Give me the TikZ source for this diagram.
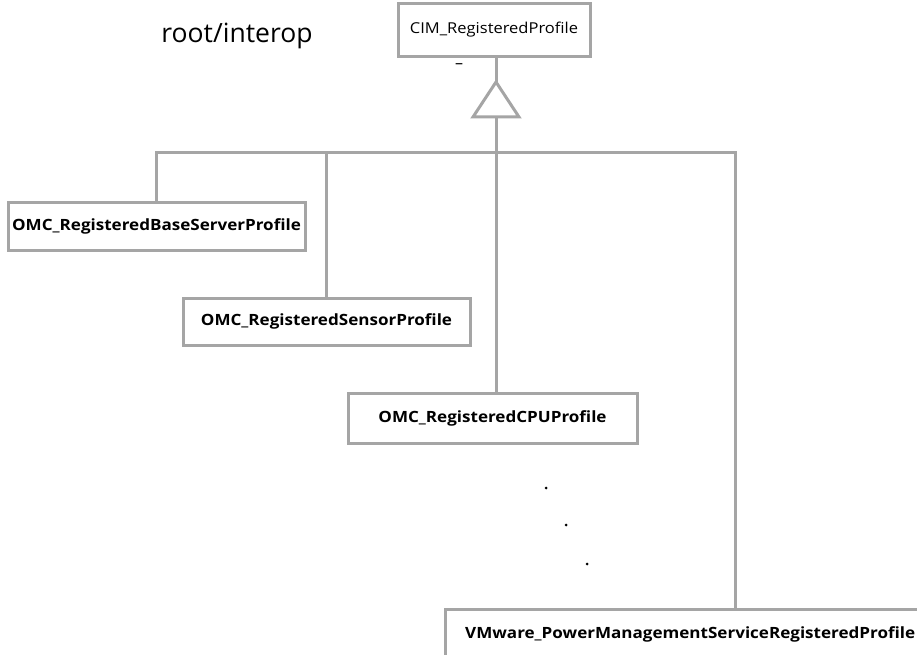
\documentclass[tikz,border=0pt]{standalone}
\usepackage{fontspec}
\setmainfont{Open Sans}
\newfontfamily\boxfont{Open Sans}[FakeStretch=1.1]
\definecolor{lg}{HTML}{A5A5A5}
\begin{document}
\begin{tikzpicture}[x=1pt,y=-1pt,
  box/.style={draw=lg,line width=3pt,rectangle,inner sep=0pt,fill=white},
  lbl/.style={font=\boxfont\fontsize{15.5}{18}\selectfont\bfseries,inner sep=0pt},
  conn/.style={draw=lg,line width=3pt},
  dotm/.style={circle,fill=black,inner sep=0pt,minimum size=3pt}]
\useasboundingbox (0,0) rectangle (917,655);
% parent
\node[box,minimum width=192pt,minimum height=53pt,font=\boxfont\fontsize{15}{18}\selectfont] (cim) at (494,30) {CIM\_RegisteredProfile};
\node[font=\fontsize{26.5}{30}\selectfont,inner sep=0pt] (ns) at (237,36) {root/interop};
\node[inner sep=0pt,font=\fontsize{16}{18}\selectfont] (mult) at (459,66) {–};
% children
\node[box,minimum width=297pt,minimum height=48pt,lbl] (b1) at (156.5,226) {OMC\_RegisteredBaseServerProfile};
\node[box,minimum width=287pt,minimum height=47pt,lbl] (b2) at (326.5,321.5) {OMC\_RegisteredSensorProfile};
\node[box,minimum width=289pt,minimum height=50pt,lbl] (b3) at (492.5,418) {OMC\_RegisteredCPUProfile};
\draw[conn,fill=white] (445,609) rectangle (935,675);
\node[lbl,anchor=west] (b4) at (465,634) {VMware\_PowerManagementServiceRegisteredProfile};
% dots
\node[dotm] (d1) at (546,488) {};
\node[dotm] (d2) at (566,525) {};
\node[dotm] (d3) at (587,564) {};
% generalization
\coordinate (apex) at (496,82);
\coordinate (bl) at (473,117);
\coordinate (br) at (519,117);
\coordinate (bm) at (496,117);
\coordinate (cimb) at (496,57);
\coordinate (bus) at (496,153);
\coordinate (j3) at (496,393);
\coordinate (j4) at (735,609);
\draw[conn] (cimb) -- (apex);
\draw[conn,line join=miter] (apex) -- (bl) -- (br) -- cycle;
\draw[conn] (bm) -- (j3);
\draw[conn] (b1.north) |- (bus) -| (j4);
\draw[conn] (b2.north) -- (b2.north |- bus);
\end{tikzpicture}
\end{document}
